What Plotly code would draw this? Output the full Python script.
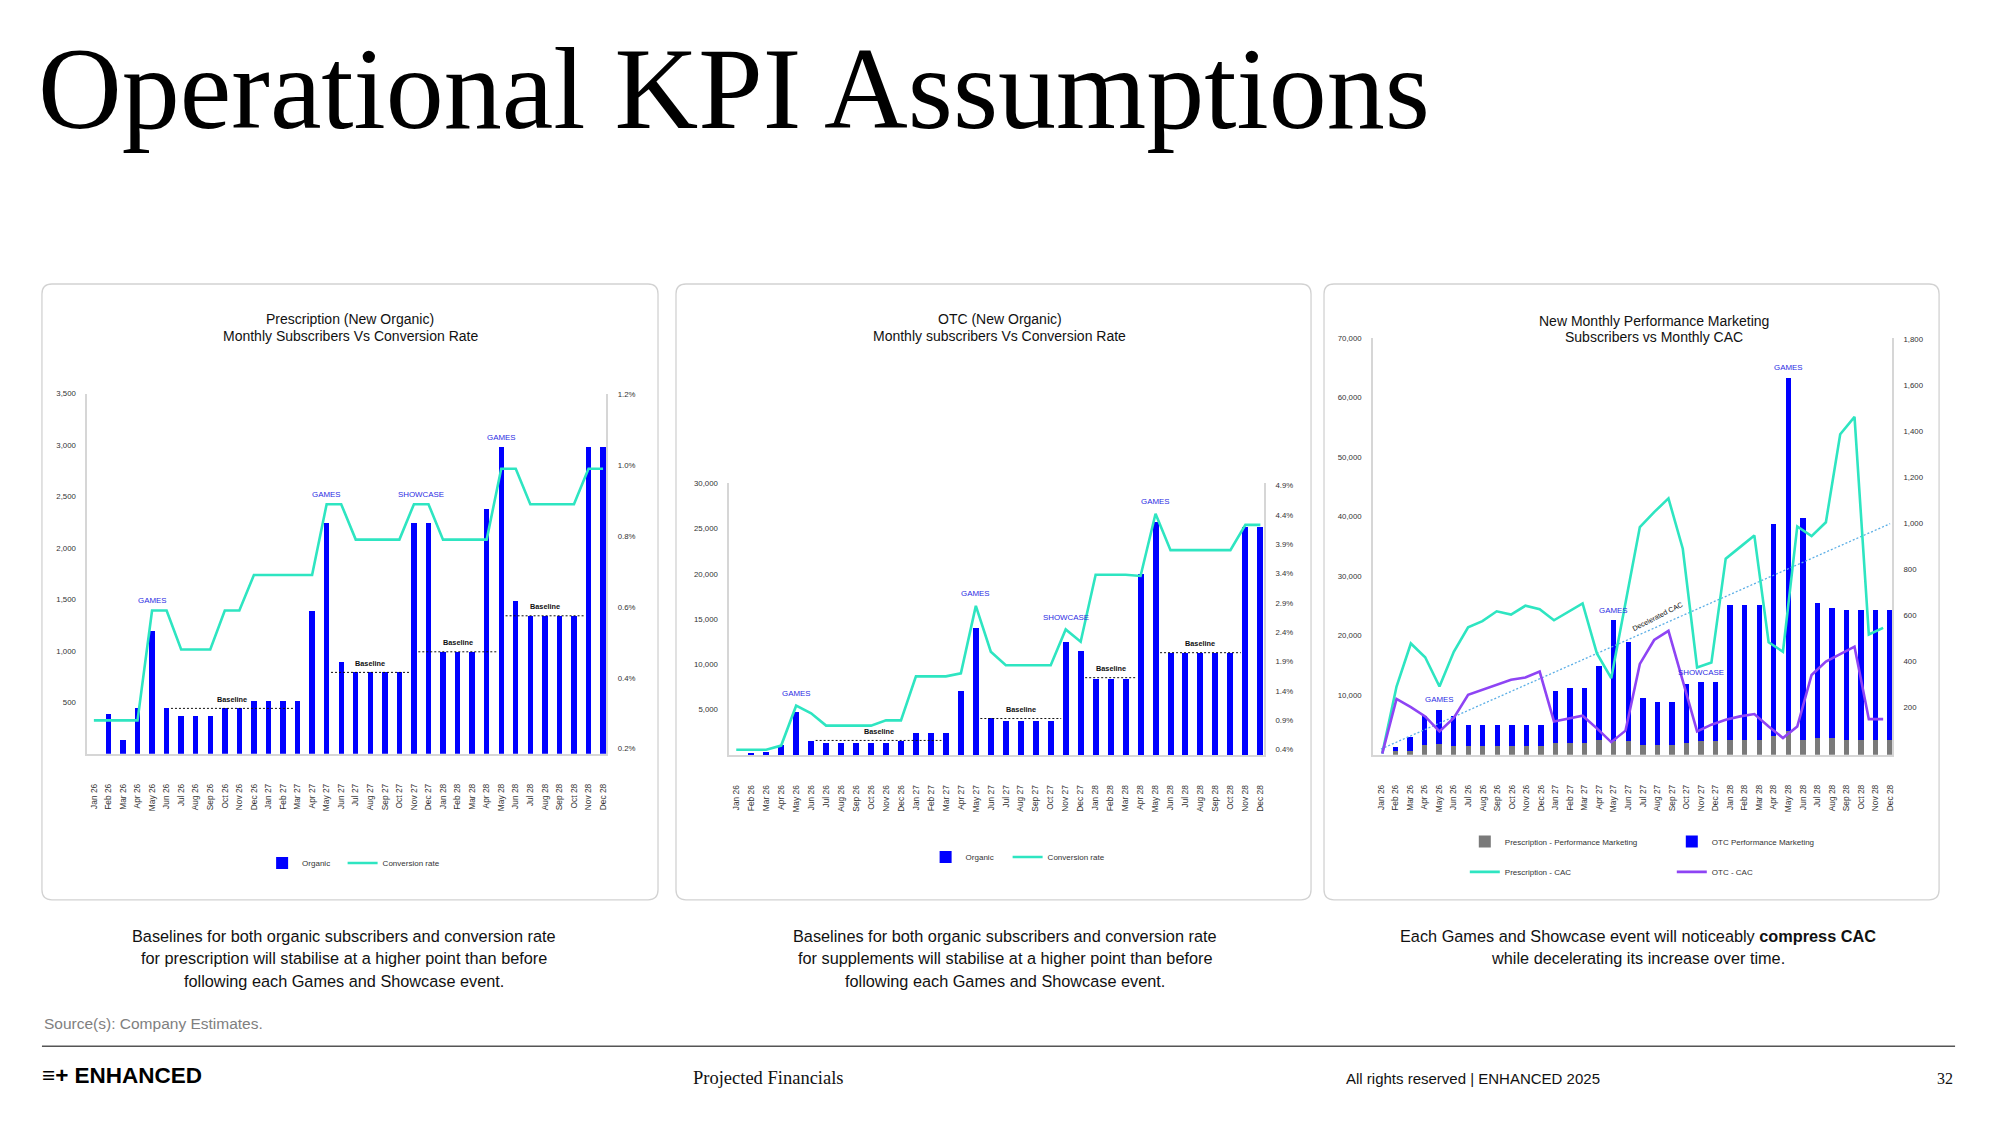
import plotly.graph_objects as go

# The page body adds an 8px margin; the figure is sized to fit the 2000x1125 window.
PAGE_W, PAGE_H, OFF = 2000, 1125, 8
W, H = PAGE_W - OFF, PAGE_H - OFF
SANS = "Liberation Sans, Arial, Helvetica, sans-serif"
SERIF = "Liberation Serif, Times New Roman, serif"

# ---------------- data ----------------
months = ["Jan 26", "Feb 26", "Mar 26", "Apr 26", "May 26", "Jun 26", "Jul 26", "Aug 26", "Sep 26",
          "Oct 26", "Nov 26", "Dec 26", "Jan 27", "Feb 27", "Mar 27", "Apr 27", "May 27", "Jun 27",
          "Jul 27", "Aug 27", "Sep 27", "Oct 27", "Nov 27", "Dec 27", "Jan 28", "Feb 28", "Mar 28",
          "Apr 28", "May 28", "Jun 28", "Jul 28", "Aug 28", "Sep 28", "Oct 28", "Nov 28", "Dec 28"]

# Prescription (new organic)
rx_organic = [0, 390, 130, 440, 1190, 440, 370, 370, 370, 440, 440, 510,
              510, 510, 510, 1385, 2240, 890, 790, 790, 790, 790, 2240, 2240,
              990, 990, 990, 2380, 2980, 1485, 1340, 1340, 1340, 1340, 2980, 2980]
rx_conv = [0.28, 0.28, 0.28, 0.28, 0.59, 0.59, 0.48, 0.48, 0.48, 0.59, 0.59, 0.69,
           0.69, 0.69, 0.69, 0.69, 0.89, 0.89, 0.79, 0.79, 0.79, 0.79, 0.89, 0.89,
           0.79, 0.79, 0.79, 0.79, 0.99, 0.99, 0.89, 0.89, 0.89, 0.89, 0.99, 0.99]

# OTC (new organic)
otc_organic = [0, 220, 300, 1060, 4730, 1500, 1320, 1320, 1320, 1320, 1320, 1540,
               2420, 2420, 2420, 7080, 13970, 4140, 3810, 3810, 3810, 3810, 12500, 11480,
               8400, 8400, 8400, 20000, 25780, 11220, 11220, 11220, 11220, 11220, 25160, 25160]
otc_conv = [0.40, 0.40, 0.40, 0.47, 1.15, 1.02, 0.81, 0.81, 0.81, 0.81, 0.90, 0.90,
            1.65, 1.65, 1.65, 1.70, 2.85, 2.07, 1.84, 1.84, 1.84, 1.84, 2.45, 2.24,
            3.38, 3.38, 3.38, 3.36, 4.42, 3.80, 3.80, 3.80, 3.80, 3.80, 4.23, 4.23]

# Performance marketing subscribers and CAC
rx_pm = [0, 670, 670, 1560, 1790, 1390, 1390, 1390, 1390, 1390, 1390, 1390,
         1950, 1950, 1950, 2450, 2230, 2230, 1560, 1560, 1560, 1950, 2230, 2230,
         2510, 2510, 2510, 3070, 4020, 2510, 2790, 2790, 2510, 2510, 2510, 2510]
otc_pm = [0, 610, 2290, 4850, 5740, 5020, 3630, 3630, 3630, 3630, 3630, 3630,
          8810, 9260, 9260, 12500, 20300, 16620, 7870, 7360, 7360, 9990, 9930, 9930,
          22590, 22590, 22590, 35580, 59280, 37260, 22750, 21860, 21860, 21860, 21860, 21860]
rx_cac = [0, 292, 479, 419, 292, 443, 549, 576, 619, 605, 643, 628,
          580, 617, 653, 436, 328, 656, 985, 1050, 1110, 891, 375, 396,
          848, 898, 949, 484, 443, 988, 946, 1006, 1389, 1464, 518, 547]
otc_cac = [0, 238, 202, 162, 97, 155, 256, 277, 299, 321, 331, 357,
           140, 152, 165, 110, 50, 100, 390, 494, 534, 316, 97, 126,
           147, 162, 172, 118, 68, 118, 342, 400, 432, 465, 150, 150]
cac_trend_months = ["Jan 26", "Dec 28"]
cac_trend = [20, 1000]
cac_trend_label = ("Aug 27", "Decelerated CAC")

rx_baselines = [("Jul 26", "Feb 27", 440), ("Jun 27", "Oct 27", 790),
                ("Dec 27", "Apr 28", 990), ("Jun 28", "Oct 28", 1340)]
otc_baselines = [("Jul 26", "Feb 27", 1610), ("Jun 27", "Oct 27", 4030),
                 ("Jan 28", "Mar 28", 8540), ("Jun 28", "Oct 28", 11300)]

rx_events = [("May 26", "May 26", "GAMES"), ("May 27", "May 27", "GAMES"),
             ("Nov 27", "Dec 27", "SHOWCASE"), ("May 28", "May 28", "GAMES")]
otc_events = [("May 26", "May 26", "GAMES"), ("May 27", "May 27", "GAMES"),
              ("Nov 27", "Nov 27", "SHOWCASE"), ("May 28", "May 28", "GAMES")]
pm_events = [("May 26", "May 26", "GAMES"), ("May 27", "May 27", "GAMES"),
             ("Nov 27", "Nov 27", "SHOWCASE"), ("May 28", "May 28", "GAMES")]

rx_left_ticks = [500, 1000, 1500, 2000, 2500, 3000, 3500]
rx_right_ticks = [0.2, 0.4, 0.6, 0.8, 1.0, 1.2]
otc_left_ticks = [5000, 10000, 15000, 20000, 25000, 30000]
otc_right_ticks = [0.4, 0.9, 1.4, 1.9, 2.4, 2.9, 3.4, 3.9, 4.4, 4.9]
pm_left_ticks = [10000, 20000, 30000, 40000, 50000, 60000, 70000]
pm_right_ticks = [200, 400, 600, 800, 1000, 1200, 1400, 1600, 1800]

# ---------------- styling ----------------
BLUE = "#0000ff"
TEAL = "#2ee5c1"
PURPLE = "#8e44f4"
GRAY = "#7a7a7a"
EVENT = "#2b2be3"
AXIS = "#d6d6d6"
TXT = "#222222"

R1 = dict(l=[0, 3500], r=[0.186, 1.202])
R2 = dict(l=[0, 30000], r=[0.309, 4.939])
R3 = dict(l=[0, 70000], r=[-4.3, 1808])


def fx(x):
    return (x - OFF) / W


def fy(y):
    return 1 - (y - OFF) / H


fig = go.Figure()

# chart 1
fig.add_trace(go.Bar(x=months, y=rx_organic, name="Organic", marker=dict(color=BLUE, line=dict(width=0)),
                     width=0.37, xaxis="x", yaxis="y", legend="legend", legendwidth=35.5))
fig.add_trace(go.Scatter(x=months, y=rx_conv, name="Conversion rate", mode="lines",
                         line=dict(color=TEAL, width=2.6), xaxis="x", yaxis="y2", legend="legend",
                         legendwidth=62))
# chart 2
fig.add_trace(go.Bar(x=months, y=otc_organic, name="Organic", marker=dict(color=BLUE, line=dict(width=0)),
                     width=0.4, xaxis="x2", yaxis="y3", legend="legend2", legendwidth=37))
fig.add_trace(go.Scatter(x=months, y=otc_conv, name="Conversion rate", mode="lines",
                         line=dict(color=TEAL, width=2.6), xaxis="x2", yaxis="y4", legend="legend2",
                         legendwidth=62))
# chart 3
fig.add_trace(go.Bar(x=months, y=rx_pm, name="Prescription - Performance Marketing",
                     marker=dict(color=GRAY, line=dict(width=0)), width=0.37,
                     xaxis="x3", yaxis="y5", legend="legend3", legendwidth=162))
fig.add_trace(go.Bar(x=months, y=otc_pm, name="OTC Performance Marketing",
                     marker=dict(color=BLUE, line=dict(width=0)), width=0.37,
                     xaxis="x3", yaxis="y5", legend="legend3", legendwidth=112))
fig.add_trace(go.Scatter(x=cac_trend_months, y=cac_trend, mode="lines", showlegend=False,
                         line=dict(color="#5aaee6", width=1.3, dash="2px,2px"), xaxis="x3", yaxis="y6"))
fig.add_trace(go.Scatter(x=months, y=rx_cac, name="Prescription - CAC", mode="lines",
                         line=dict(color=TEAL, width=2.6), xaxis="x4", yaxis="y6", legend="legend4",
                         legendwidth=162))
fig.add_trace(go.Scatter(x=months, y=otc_cac, name="OTC - CAC", mode="lines",
                         line=dict(color=PURPLE, width=2.6), xaxis="x4", yaxis="y6", legend="legend4",
                         legendwidth=52))

tickfont = dict(family=SANS, size=7.8, color="#333333")
xtickfont = dict(family=SANS, size=8.4, color="#333333")


def xax(dom, rng, anchor, **kw):
    d = dict(domain=[fx(dom[0]), fx(dom[1])], range=rng, type="category", categoryorder="array",
             categoryarray=months, tickangle=-90, showline=True, linecolor=AXIS, linewidth=1.5,
             showgrid=False, zeroline=False, ticks="", tickfont=xtickfont, ticklabelstandoff=25,
             anchor=anchor, fixedrange=True)
    d.update(kw)
    return d


def yax(dom, rng, vals, text, anchor, **kw):
    d = dict(range=rng, tickmode="array", tickvals=vals, ticktext=text, showline=True,
             linecolor=AXIS, linewidth=1.5, showgrid=False, zeroline=False, ticks="",
             tickfont=tickfont, ticklabelstandoff=8, anchor=anchor, fixedrange=True)
    if dom is not None:
        d["domain"] = [fy(dom[0]), fy(dom[1])]
    d.update(kw)
    return d


fig.update_layout(
    xaxis=xax((87.3, 607.3), [-0.46, 35.23], "y"),
    yaxis=yax((752.3, 391), R1["l"], rx_left_ticks, [f"{v:,}" for v in rx_left_ticks], "x"),
    yaxis2=yax(None, R1["r"], rx_right_ticks, [f"{v:.1f}%" for v in rx_right_ticks], "x",
               overlaying="y", side="right"),
    xaxis2=xax((730.3, 1266), [-0.47, 35.25], "y3"),
    yaxis3=yax((753.7, 481), R2["l"], otc_left_ticks, [f"{v:,}" for v in otc_left_ticks], "x2"),
    yaxis4=yax(None, R2["r"], otc_right_ticks, [f"{v:.1f}%" for v in otc_right_ticks], "x2",
               overlaying="y3", side="right"),
    xaxis3=xax((1375, 1895), [-0.55, 35.14], "y5"),
    xaxis4=dict(overlaying="x3", visible=False, type="category", categoryorder="array",
                categoryarray=months, range=[-0.649, 35.63], anchor="y5", fixedrange=True),
    yaxis5=yax((753.3, 335), R3["l"], pm_left_ticks, [f"{v:,}" for v in pm_left_ticks], "x3"),
    yaxis6=yax(None, R3["r"], pm_right_ticks, [f"{v:,}" for v in pm_right_ticks], "x3",
               overlaying="y5", side="right"),
)

legend_common = dict(orientation="h", xanchor="left", yanchor="middle", bgcolor="rgba(0,0,0,0)",
                     font=dict(family=SANS, size=8, color="#333333"), entrywidthmode="pixels",
                     traceorder="normal", itemclick=False, itemdoubleclick=False)
fig.update_layout(
    legend=dict(x=fx(262.5), y=fy(862), **legend_common),
    legend2=dict(x=fx(927), y=fy(856), **legend_common),
    legend3=dict(x=fx(1467), y=fy(840.5), **legend_common),
    legend4=dict(x=fx(1467), y=fy(871), **legend_common),
)

shapes = []
annotations = []


def rounded_rect(x0, y0, x1, y1, r=10):
    X0, X1 = fx(x0), fx(x1)
    Y0, Y1 = fy(y0), fy(y1)  # Y0 top, Y1 bottom
    rx, ry = r / W, r / H
    p = (f"M{X0 + rx},{Y0} L{X1 - rx},{Y0} Q{X1},{Y0} {X1},{Y0 - ry} "
         f"L{X1},{Y1 + ry} Q{X1},{Y1} {X1 - rx},{Y1} L{X0 + rx},{Y1} "
         f"Q{X0},{Y1} {X0},{Y1 + ry} L{X0},{Y0 - ry} Q{X0},{Y0} {X0 + rx},{Y0} Z")
    return dict(type="path", xref="paper", yref="paper", path=p,
                line=dict(color="#d2d2d2", width=1.3), fillcolor="rgba(0,0,0,0)", layer="below")


for (a, b) in [(42, 659), (677, 1313), (1326, 1942)]:
    shapes.append(rounded_rect(a, 281, b, 899))

# footer rule
shapes.append(dict(type="line", xref="paper", yref="paper", x0=fx(42), x1=fx(1958),
                   y0=fy(1046), y1=fy(1046), line=dict(color="#555555", width=1.5)))


def add_baselines(baselines, xref, yref, pad=0.7):
    for m0, m1, lvl in baselines:
        i0, i1 = months.index(m0), months.index(m1)
        shapes.append(dict(type="line", xref=xref, yref=yref, x0=i0 - pad, x1=i1 + pad, y0=lvl, y1=lvl,
                           line=dict(color="#111111", width=1, dash="2px,2px")))
        annotations.append(dict(x=(i0 + i1) / 2, y=lvl, xref=xref, yref=yref, text="Baseline",
                                showarrow=False, yanchor="middle", yshift=9,
                                font=dict(family=SANS, size=7.3, color="#111111", weight="bold")))


add_baselines(rx_baselines, "x", "y")
add_baselines(otc_baselines, "x2", "y3")


def add_events(events, bars, line, rng, xref, ydom, use_line=True, shift=11):
    for m0, m1, label in events:
        i0, i1 = months.index(m0), months.index(m1)
        f = max(bars[i0], bars[i1]) / (rng["l"][1] - rng["l"][0])
        if use_line:
            fl = (max(line[i0], line[i1]) - rng["r"][0]) / (rng["r"][1] - rng["r"][0])
            f = max(f, fl)
        annotations.append(dict(x=(i0 + i1) / 2, y=f, xref=xref, yref=ydom, text=label,
                                showarrow=False, yanchor="middle", yshift=shift,
                                font=dict(family=SANS, size=7.9, color=EVENT)))


add_events(rx_events, rx_organic, rx_conv, R1, "x", "y domain", True, 10)
add_events(otc_events, otc_organic, otc_conv, R2, "x2", "y3 domain", True, 12)
pm_total = [a + b for a, b in zip(rx_pm, otc_pm)]
add_events(pm_events, pm_total, None, R3, "x3", "y5 domain", False, 10)

# trend label
ti = months.index(cac_trend_label[0])
t0, t1 = months.index(cac_trend_months[0]), months.index(cac_trend_months[1])
ty = cac_trend[0] + (cac_trend[1] - cac_trend[0]) * (ti - t0) / (t1 - t0)
annotations.append(dict(x=ti, y=ty, xref="x3", yref="y6", text=cac_trend_label[1], showarrow=False,
                        textangle=-27, yshift=10, font=dict(family=SANS, size=7.1, color="#111111")))


def txt(text, x, y, size, family=SANS, color="#111111", xanchor="center", **kw):
    annotations.append(dict(x=fx(x), y=fy(y), xref="paper", yref="paper", text=text, showarrow=False,
                            xanchor=xanchor, yanchor="middle", font=dict(family=family, size=size, color=color),
                            **kw))


# page title
txt("Operational KPI Assumptions", 36, 85, 116, family=SERIF, color="#000000", xanchor="left")

# chart titles
txt("Prescription (New Organic)", 351, 316.5, 14)
txt("Monthly Subscribers Vs Conversion Rate", 351, 333, 14)
txt("OTC (New Organic)", 1001, 316.5, 14)
txt("Monthly subscribers Vs Conversion Rate", 1001, 333, 14)
txt("New Monthly Performance Marketing", 1656, 318.5, 14)
txt("Subscribers vs Monthly CAC", 1656, 334, 14)

# commentary
txt("Baselines for both organic subscribers and conversion rate", 345, 935, 16.3)
txt("for prescription will stabilise at a higher point than before", 345, 957.5, 16.3)
txt("following each Games and Showcase event.", 345, 980, 16.3)
txt("Baselines for both organic subscribers and conversion rate", 1007, 935, 16.3)
txt("for supplements will stabilise at a higher point than before", 1007, 957.5, 16.3)
txt("following each Games and Showcase event.", 1007, 980, 16.3)
txt("Each Games and Showcase event will noticeably <b>compress CAC</b>", 1640, 935, 16.3)
txt("while decelerating its increase over time.", 1640, 957.5, 16.3)

txt("Source(s): Company Estimates.", 42, 1023, 15.5, color="#808080", xanchor="left")

# footer
txt("<b>≡+ ENHANCED</b>", 40, 1075, 22.5, family="Liberation Sans, DejaVu Sans, sans-serif",
    color="#000000", xanchor="left")
txt("Projected Financials", 770, 1078, 18.5, family=SERIF, color="#111111")
txt("All rights reserved | ENHANCED 2025", 1475, 1078, 15, color="#111111")
txt("32", 1958, 1078, 16, family=SERIF, color="#111111", xanchor="right")

fig.update_layout(
    width=W, height=H, margin=dict(l=0, r=0, t=0, b=0),
    paper_bgcolor="white", plot_bgcolor="white",
    barmode="stack", showlegend=True, hovermode=False,
    shapes=shapes, annotations=annotations,
    font=dict(family=SANS, color=TXT),
)

fig.write_html("out.html")
